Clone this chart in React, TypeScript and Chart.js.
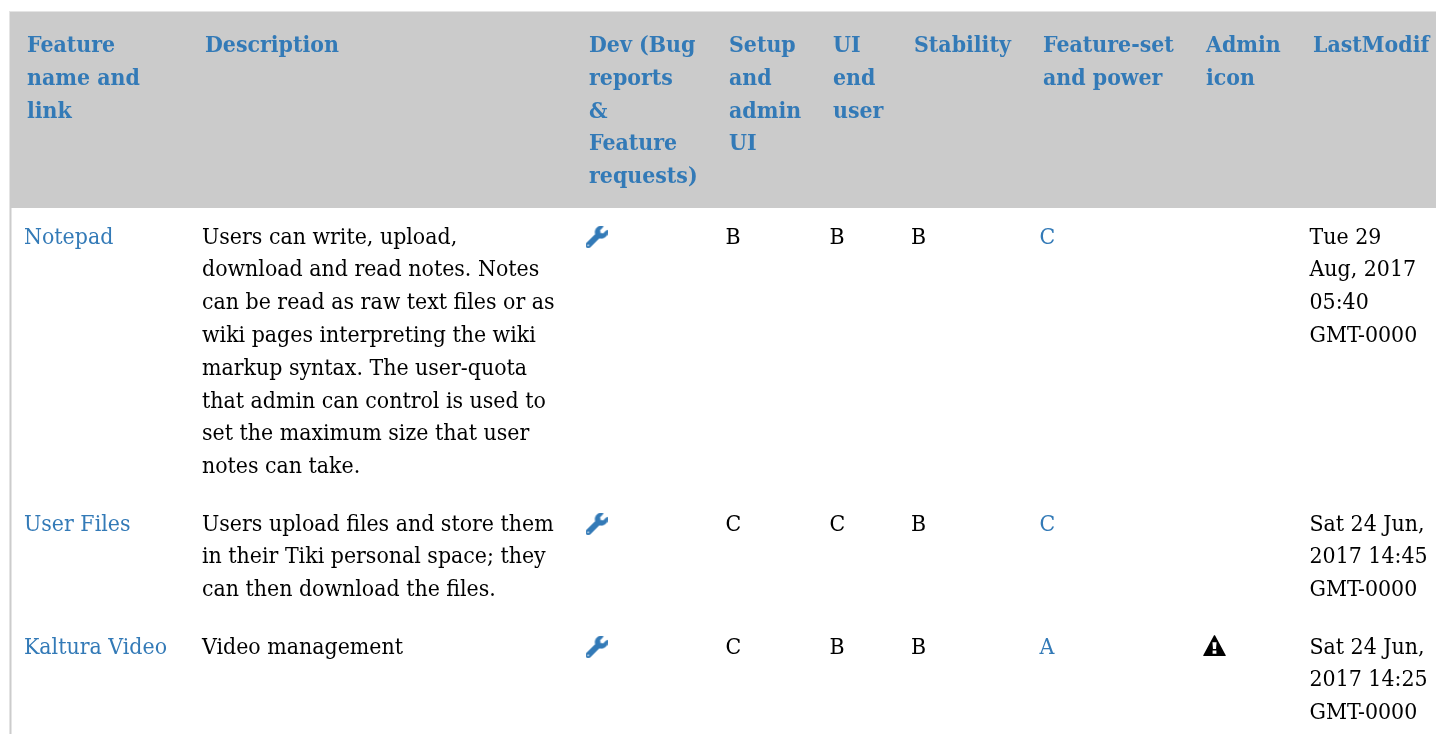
import React, { useEffect, useRef } from "react";
import { Chart, registerables } from "chart.js";

Chart.register(...registerables);

// ---- table content ----
const headers: string[][] = [
  ["Feature", "name and", "link"],
  ["Description"],
  ["Dev (Bug", "reports", "&", "Feature", "requests)"],
  ["Setup", "and", "admin", "UI"],
  ["UI", "end", "user"],
  ["Stability"],
  ["Feature-set", "and power"],
  ["Admin", "icon"],
  ["LastModif"],
];
const featureNames = ["Notepad", "User Files", "Kaltura Video"];
const descriptions: string[][] = [
  [
    "Users can write, upload,",
    "download and read notes. Notes",
    "can be read as raw text files or as",
    "wiki pages interpreting the wiki",
    "markup syntax. The user-quota",
    "that admin can control is used to",
    "set the maximum size that user",
    "notes can take.",
  ],
  [
    "Users upload files and store them",
    "in their Tiki personal space; they",
    "can then download the files.",
  ],
  ["Video management"],
];
const devIcon = [true, true, true];
const setupGrades = ["B", "C", "C"];
const uiGrades = ["B", "C", "B"];
const stabilityGrades = ["B", "B", "B"];
const featureSetGrades = ["C", "C", "A"];
const adminIcon = [false, false, true];
const lastModified: string[][] = [
  ["Tue 29", "Aug, 2017", "05:40", "GMT-0000"],
  ["Sat 24 Jun,", "2017 14:45", "GMT-0000"],
  ["Sat 24 Jun,", "2017 14:25", "GMT-0000"],
];

// ---- layout ----
const W = 1436;
const H = 734;
const BLUE = "#337ab7";
const FONT_SIZE = 20.56;
const GLYPH_STRETCH = 1.09;
const LINE = 32.8;
const FAMILY = '"DejaVu Serif"';
const headerX = [27, 205, 589, 729, 833, 914, 1043, 1206, 1313];
const bodyX = [24, 202, 586, 725.5, 829.5, 911, 1039.5, 1203, 1309.5];
const HEADER_TOP = 12;
const HEADER_BOTTOM = 208;
const HEADER_BASE = 52;
const rowBase = [243.5, 530.5, 653.5];
const TABLE_LEFT = 10;

const WRENCH =
  "M507.73 109.1c-2.24-9.03-13.54-12.09-20.12-5.51l-74.36 74.36-67.88-11.31-11.31-67.88 74.36-74.36c6.62-6.62 3.43-17.9-5.66-20.16-47.38-11.74-99.55.91-136.58 37.93-39.64 39.64-50.55 97.1-34.05 147.2L18.74 402.76c-24.99 24.99-24.99 65.51 0 90.5 24.99 24.99 65.51 24.99 90.5 0l213.21-213.21c50.12 16.71 107.47 5.68 147.37-34.22 37.07-37.07 49.7-89.32 37.91-136.73zM64 472c-13.25 0-24-10.75-24-24 0-13.26 10.75-24 24-24s24 10.74 24 24c0 13.25-10.75 24-24 24z";
const WARNING =
  "M288 8 L300 8 L572 500 L564 512 L12 512 L4 500 L276 8 Z M236 176 L340 176 L326 340 L250 340 Z M240 376 L336 376 L336 456 L240 456 Z";

function iconCanvas(path: string, vw: number, vh: number, w: number, h: number, color: string, bold: number) {
  const c = document.createElement("canvas");
  c.width = w;
  c.height = h;
  const ctx = c.getContext("2d")!;
  ctx.scale(w / vw, h / vh);
  ctx.fillStyle = color;
  const p = new Path2D(path);
  ctx.fill(p, "evenodd");
  if (bold > 0) {
    ctx.strokeStyle = color;
    ctx.lineWidth = bold;
    ctx.lineJoin = "round";
    ctx.stroke(p);
  }
  return c;
}

const tablePlugin = {
  id: "tableText",
  beforeDatasetsDraw(chart: any) {
    const { ctx, scales } = chart;
    const px = (v: number) => scales.x.getPixelForValue(v);
    const py = (v: number) => scales.y.getPixelForValue(v);
    ctx.save();
    ctx.fillStyle = "#ffffff";
    ctx.fillRect(0, 0, W, H);
    ctx.fillStyle = "#e4e4e4";
    ctx.fillRect(px(TABLE_LEFT - 1), py(HEADER_TOP - 1), W, 1);
    ctx.fillRect(px(TABLE_LEFT - 1), py(HEADER_TOP - 1), 1, H);
    ctx.fillStyle = "#cbcbcb";
    ctx.fillRect(px(TABLE_LEFT), py(HEADER_TOP), W, HEADER_BOTTOM - HEADER_TOP);
    ctx.fillStyle = "#cccccc";
    ctx.fillRect(px(TABLE_LEFT), py(HEADER_BOTTOM), 1.5, H - HEADER_BOTTOM);
    ctx.restore();
  },
  afterDatasetsDraw(chart: any) {
    const { ctx, scales } = chart;
    const px = (v: number) => scales.x.getPixelForValue(v);
    const py = (v: number) => scales.y.getPixelForValue(v);
    const put = (lines: string[], x: number, y: number, color: string, bold = false) => {
      ctx.font = `${bold ? "bold " : ""}${FONT_SIZE}px ${FAMILY}`;
      ctx.fillStyle = color;
      ctx.textBaseline = "alphabetic";
      ctx.textAlign = "left";
      lines.forEach((s, i) => {
        ctx.save();
        ctx.translate(px(x), py(y + i * LINE));
        ctx.scale(1, GLYPH_STRETCH);
        ctx.fillText(s, 0, 0);
        ctx.restore();
      });
    };
    ctx.save();
    headers.forEach((h, c) => put(h, headerX[c], HEADER_BASE, BLUE, true));
    rowBase.forEach((y, r) => {
      put([featureNames[r]], bodyX[0], y, BLUE);
      put(descriptions[r], bodyX[1], y, "#000000");
      put([setupGrades[r]], bodyX[3], y, "#000000");
      put([uiGrades[r]], bodyX[4], y, "#000000");
      put([stabilityGrades[r]], bodyX[5], y, "#000000");
      put([featureSetGrades[r]], bodyX[6], y, BLUE);
      put(lastModified[r], bodyX[8], y, "#000000");
    });
    ctx.restore();
  },
};

export default function App() {
  const ref = useRef<HTMLCanvasElement | null>(null);
  useEffect(() => {
    if (!ref.current) return;
    const wrench = iconCanvas(WRENCH, 512, 512, 22, 22, BLUE, 14);
    const warning = iconCanvas(WARNING, 576, 512, 23, 21, "#000000", 0);
    const chart = new Chart(ref.current, {
      type: "scatter",
      data: {
        datasets: [
          {
            label: "Dev",
            data: rowBase.flatMap((y, r) => (devIcon[r] ? [{ x: bodyX[2] + 10.5, y: y - 6.5 }] : [])),
            pointStyle: wrench as any,
          },
          {
            label: "Admin icon",
            data: rowBase.flatMap((y, r) => (adminIcon[r] ? [{ x: bodyX[7] + 11.5, y: y - 8 }] : [])),
            pointStyle: warning as any,
          },
        ],
      },
      options: {
        responsive: false,
        animation: false,
        layout: { padding: 0, autoPadding: false },
        plugins: { legend: { display: false }, tooltip: { enabled: false } },
        scales: {
          x: { type: "linear", display: false, min: 0, max: W },
          y: { type: "linear", display: false, min: 0, max: H, reverse: true },
        },
      },
      plugins: [tablePlugin],
    });
    return () => chart.destroy();
  }, []);
  return (
    <div style={{ position: "fixed", left: 0, top: 0, width: W, height: H, background: "#fff", overflow: "hidden" }}>
      <canvas ref={ref} width={W} height={H} style={{ display: "block", width: W, height: H }} />
    </div>
  );
}
